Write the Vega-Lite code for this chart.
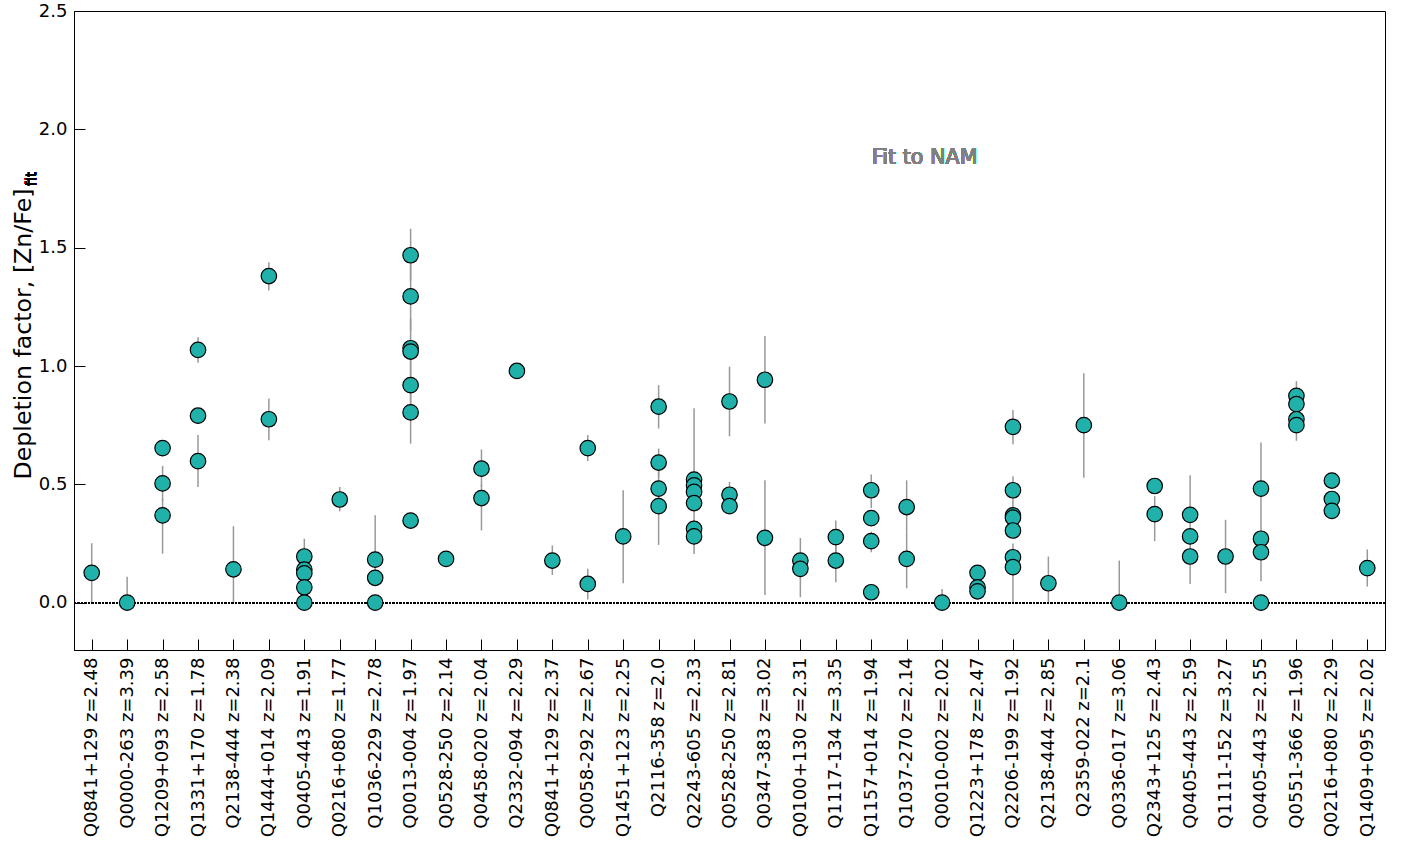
{
  "$schema": "https://vega.github.io/schema/vega-lite/v6.json",
  "width": 1311,
  "height": 639,
  "autosize": {"type": "none"},
  "padding": {"left": 74, "top": 11, "right": 26, "bottom": 197},
  "background": "white",
  "config": {
    "view": {"stroke": "#000000", "strokeWidth": 1},
    "axis": {"grid": false, "domainColor": "#000000", "tickColor": "#000000", "labelColor": "#000000", "titleColor": "#000000", "labelFont": "DejaVu Sans", "titleFont": "DejaVu Sans", "titleFontWeight": "normal"}
  },
  "data": {"values": [
    {"q": "Q0841+129 z=2.48", "v": 0.126, "lo": 0.0, "hi": 0.251},
    {"q": "Q0000-263 z=3.39", "v": 0.0, "lo": 0.0, "hi": 0.110},
    {"q": "Q1209+093 z=2.58", "v": 0.653},
    {"q": "Q1209+093 z=2.58", "v": 0.504, "lo": 0.43, "hi": 0.578},
    {"q": "Q1209+093 z=2.58", "v": 0.369, "lo": 0.207, "hi": 0.44},
    {"q": "Q1331+170 z=1.78", "v": 1.068, "lo": 1.014, "hi": 1.122},
    {"q": "Q1331+170 z=1.78", "v": 0.790},
    {"q": "Q1331+170 z=1.78", "v": 0.598, "lo": 0.489, "hi": 0.708},
    {"q": "Q2138-444 z=2.38", "v": 0.141, "lo": 0.0, "hi": 0.323},
    {"q": "Q1444+014 z=2.09", "v": 1.380, "lo": 1.319, "hi": 1.438},
    {"q": "Q1444+014 z=2.09", "v": 0.775, "lo": 0.686, "hi": 0.863},
    {"q": "Q0405-443 z=1.91", "v": 0.195, "lo": 0.13, "hi": 0.27},
    {"q": "Q0405-443 z=1.91", "v": 0.140},
    {"q": "Q0405-443 z=1.91", "v": 0.124},
    {"q": "Q0405-443 z=1.91", "v": 0.065},
    {"q": "Q0405-443 z=1.91", "v": 0.0},
    {"q": "Q0216+080 z=1.77", "v": 0.436, "lo": 0.386, "hi": 0.489},
    {"q": "Q1036-229 z=2.78", "v": 0.182, "lo": 0.10, "hi": 0.369},
    {"q": "Q1036-229 z=2.78", "v": 0.105},
    {"q": "Q1036-229 z=2.78", "v": 0.0},
    {"q": "Q0013-004 z=1.97", "v": 1.468, "lo": 1.36, "hi": 1.58},
    {"q": "Q0013-004 z=1.97", "v": 1.294, "lo": 1.15, "hi": 1.44},
    {"q": "Q0013-004 z=1.97", "v": 1.075, "lo": 0.95, "hi": 1.2},
    {"q": "Q0013-004 z=1.97", "v": 1.061},
    {"q": "Q0013-004 z=1.97", "v": 0.919, "lo": 0.8, "hi": 1.03},
    {"q": "Q0013-004 z=1.97", "v": 0.804, "lo": 0.672, "hi": 0.93},
    {"q": "Q0013-004 z=1.97", "v": 0.347},
    {"q": "Q0528-250 z=2.14", "v": 0.185},
    {"q": "Q0458-020 z=2.04", "v": 0.566, "lo": 0.49, "hi": 0.647},
    {"q": "Q0458-020 z=2.04", "v": 0.442, "lo": 0.305, "hi": 0.5},
    {"q": "Q2332-094 z=2.29", "v": 0.979},
    {"q": "Q0841+129 z=2.37", "v": 0.178, "lo": 0.117, "hi": 0.242},
    {"q": "Q0058-292 z=2.67", "v": 0.653, "lo": 0.599, "hi": 0.708},
    {"q": "Q0058-292 z=2.67", "v": 0.079, "lo": 0.013, "hi": 0.143},
    {"q": "Q1451+123 z=2.25", "v": 0.280, "lo": 0.082, "hi": 0.475},
    {"q": "Q2116-358 z=2.0", "v": 0.828, "lo": 0.736, "hi": 0.919},
    {"q": "Q2116-358 z=2.0", "v": 0.592, "lo": 0.53, "hi": 0.651},
    {"q": "Q2116-358 z=2.0", "v": 0.482, "lo": 0.40, "hi": 0.56},
    {"q": "Q2116-358 z=2.0", "v": 0.408, "lo": 0.244, "hi": 0.45},
    {"q": "Q2243-605 z=2.33", "v": 0.520, "lo": 0.30, "hi": 0.821},
    {"q": "Q2243-605 z=2.33", "v": 0.496},
    {"q": "Q2243-605 z=2.33", "v": 0.468},
    {"q": "Q2243-605 z=2.33", "v": 0.421},
    {"q": "Q2243-605 z=2.33", "v": 0.312},
    {"q": "Q2243-605 z=2.33", "v": 0.280, "lo": 0.206, "hi": 0.35},
    {"q": "Q0528-250 z=2.81", "v": 0.850, "lo": 0.703, "hi": 0.997},
    {"q": "Q0528-250 z=2.81", "v": 0.456, "lo": 0.41, "hi": 0.510},
    {"q": "Q0528-250 z=2.81", "v": 0.408},
    {"q": "Q0347-383 z=3.02", "v": 0.942, "lo": 0.757, "hi": 1.127},
    {"q": "Q0347-383 z=3.02", "v": 0.274, "lo": 0.032, "hi": 0.517},
    {"q": "Q0100+130 z=2.31", "v": 0.178, "lo": 0.10, "hi": 0.273},
    {"q": "Q0100+130 z=2.31", "v": 0.143, "lo": 0.023, "hi": 0.2},
    {"q": "Q1117-134 z=3.35", "v": 0.277, "lo": 0.2, "hi": 0.347},
    {"q": "Q1117-134 z=3.35", "v": 0.178, "lo": 0.086, "hi": 0.25},
    {"q": "Q1157+014 z=1.94", "v": 0.475, "lo": 0.40, "hi": 0.542},
    {"q": "Q1157+014 z=1.94", "v": 0.357},
    {"q": "Q1157+014 z=1.94", "v": 0.260, "lo": 0.213, "hi": 0.30},
    {"q": "Q1157+014 z=1.94", "v": 0.044},
    {"q": "Q1037-270 z=2.14", "v": 0.404, "lo": 0.30, "hi": 0.517},
    {"q": "Q1037-270 z=2.14", "v": 0.185, "lo": 0.061, "hi": 0.30},
    {"q": "Q0010-002 z=2.02", "v": 0.0, "lo": 0.0, "hi": 0.058},
    {"q": "Q1223+178 z=2.47", "v": 0.126},
    {"q": "Q1223+178 z=2.47", "v": 0.065},
    {"q": "Q1223+178 z=2.47", "v": 0.048},
    {"q": "Q2206-199 z=1.92", "v": 0.743, "lo": 0.669, "hi": 0.814},
    {"q": "Q2206-199 z=1.92", "v": 0.475, "lo": 0.30, "hi": 0.534},
    {"q": "Q2206-199 z=1.92", "v": 0.369},
    {"q": "Q2206-199 z=1.92", "v": 0.359},
    {"q": "Q2206-199 z=1.92", "v": 0.305},
    {"q": "Q2206-199 z=1.92", "v": 0.192},
    {"q": "Q2206-199 z=1.92", "v": 0.150, "lo": 0.0, "hi": 0.25},
    {"q": "Q2138-444 z=2.85", "v": 0.082, "lo": 0.0, "hi": 0.195},
    {"q": "Q2359-022 z=2.1", "v": 0.750, "lo": 0.528, "hi": 0.969},
    {"q": "Q0336-017 z=3.06", "v": 0.0, "lo": 0.0, "hi": 0.178},
    {"q": "Q2343+125 z=2.43", "v": 0.493},
    {"q": "Q2343+125 z=2.43", "v": 0.374, "lo": 0.260, "hi": 0.45},
    {"q": "Q0405-443 z=2.59", "v": 0.371, "lo": 0.30, "hi": 0.538},
    {"q": "Q0405-443 z=2.59", "v": 0.280},
    {"q": "Q0405-443 z=2.59", "v": 0.195, "lo": 0.079, "hi": 0.25},
    {"q": "Q1111-152 z=3.27", "v": 0.195, "lo": 0.040, "hi": 0.350},
    {"q": "Q0405-443 z=2.55", "v": 0.482, "lo": 0.30, "hi": 0.677},
    {"q": "Q0405-443 z=2.55", "v": 0.270},
    {"q": "Q0405-443 z=2.55", "v": 0.213, "lo": 0.090, "hi": 0.30},
    {"q": "Q0405-443 z=2.55", "v": 0.0},
    {"q": "Q0551-366 z=1.96", "v": 0.874, "lo": 0.80, "hi": 0.936},
    {"q": "Q0551-366 z=1.96", "v": 0.839},
    {"q": "Q0551-366 z=1.96", "v": 0.775},
    {"q": "Q0551-366 z=1.96", "v": 0.750, "lo": 0.684, "hi": 0.80},
    {"q": "Q0216+080 z=2.29", "v": 0.516},
    {"q": "Q0216+080 z=2.29", "v": 0.438},
    {"q": "Q0216+080 z=2.29", "v": 0.388},
    {"q": "Q1409+095 z=2.02", "v": 0.146, "lo": 0.068, "hi": 0.225}
  ]},
  "encoding": {
    "x": {
      "field": "q", "type": "nominal",
      "scale": {"type": "point", "padding": 0.5, "domain": ["Q0841+129 z=2.48","Q0000-263 z=3.39","Q1209+093 z=2.58","Q1331+170 z=1.78","Q2138-444 z=2.38","Q1444+014 z=2.09","Q0405-443 z=1.91","Q0216+080 z=1.77","Q1036-229 z=2.78","Q0013-004 z=1.97","Q0528-250 z=2.14","Q0458-020 z=2.04","Q2332-094 z=2.29","Q0841+129 z=2.37","Q0058-292 z=2.67","Q1451+123 z=2.25","Q2116-358 z=2.0","Q2243-605 z=2.33","Q0528-250 z=2.81","Q0347-383 z=3.02","Q0100+130 z=2.31","Q1117-134 z=3.35","Q1157+014 z=1.94","Q1037-270 z=2.14","Q0010-002 z=2.02","Q1223+178 z=2.47","Q2206-199 z=1.92","Q2138-444 z=2.85","Q2359-022 z=2.1","Q0336-017 z=3.06","Q2343+125 z=2.43","Q0405-443 z=2.59","Q1111-152 z=3.27","Q0405-443 z=2.55","Q0551-366 z=1.96","Q0216+080 z=2.29","Q1409+095 z=2.02"]},
      "axis": {"title": null, "labelAngle": -90, "labelAlign": "right", "labelBaseline": "middle", "labelFontSize": 18, "tickSize": -11, "labelPadding": 18, "labelLimit": 300}
    }
  },
  "layer": [
    {
      "mark": {"type": "rule", "color": "#999999", "strokeWidth": 1.5},
      "transform": [{"filter": "isValid(datum.lo)"}],
      "encoding": {
        "y": {"field": "lo", "type": "quantitative"},
        "y2": {"field": "hi"}
      }
    },
    {
      "mark": {"type": "rule", "color": "#000000", "strokeWidth": 1, "strokeDash": [2, 1.5]},
      "encoding": {
        "x": {"value": 0},
        "x2": {"value": 1311},
        "y": {"datum": 0}
      }
    },
    {
      "mark": {"type": "point", "shape": "circle", "filled": true, "fill": "#20B2AA", "stroke": "#000000", "strokeWidth": 1.2, "size": 240, "opacity": 1},
      "encoding": {
        "y": {
          "field": "v", "type": "quantitative",
          "scale": {"domain": [-0.2, 2.5], "nice": false, "zero": false},
          "axis": {"title": "Depletion factor, [Zn/Fe]", "titleFontSize": 23.7, "titleX": -44, "titleY": 322.5, "titleAngle": 270, "titleAlign": "center", "titleBaseline": "alphabetic", "values": [0, 0.5, 1, 1.5, 2, 2.5], "format": ".1f", "labelFontSize": 18, "tickSize": -11, "labelPadding": 18}
        }
      }
    },
    {
      "mark": {"type": "text", "text": "fit", "font": "DejaVu Sans", "fontSize": 14, "angle": 270, "align": "center", "baseline": "middle", "dy": -60, "color": "#000000"},
      "encoding": {
        "x": {"datum": "Q0841+129 z=2.48"},
        "y": {"datum": 1.79}
      }
    },
    {
      "mark": {"type": "text", "text": "Fit to NAM", "font": "DejaVu Sans", "fontSize": 20.7, "color": "#808080", "align": "center", "baseline": "middle", "dx": 18},
      "encoding": {
        "x": {"datum": "Q1037-270 z=2.14"},
        "y": {"datum": 1.88}
      }
    }
  ]
}
